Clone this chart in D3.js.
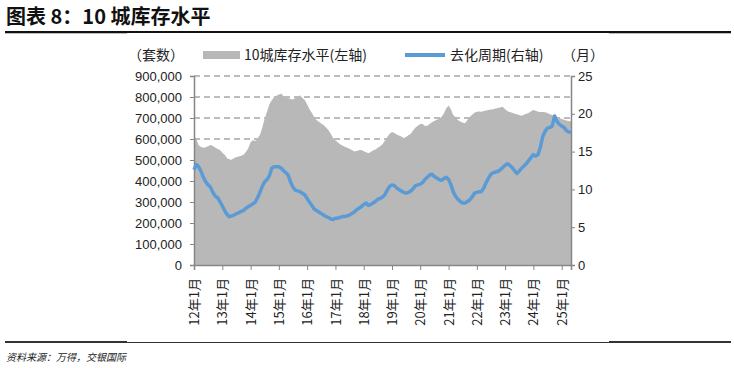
<!DOCTYPE html>
<html>
<head>
<meta charset="utf-8">
<script src="https://cdn.jsdelivr.net/npm/d3@7"></script>
<style>
  body { margin: 0; background: #fff; }
  svg { display: block; }
</style>
</head>
<body>
<svg id="chart" width="734" height="368"></svg>
<script>
// monthly series, 2012-01 .. 2025-05
const START_MONTH = "2012-01-01";

// 10-city inventory (sets), left axis
const inventory = [
  615, 600, 570, 562, 558, 561, 566, 572, 567, 560, 552, 548,
  535, 525, 510, 496, 502, 508, 514, 517, 520, 525, 538, 555,
  585, 594, 590, 603, 619, 655, 695, 730, 765, 785, 800, 806,
  812, 815, 805, 798, 795, 790, 788, 795, 800, 808, 795, 786,
  765, 742, 725, 705, 690, 682, 674, 667, 655, 643, 625, 605,
  593, 585, 575, 569, 563, 558, 553, 548, 541, 543, 547, 548,
  542, 537, 532, 538, 545, 550, 558, 565, 575, 592, 610, 625,
  633, 628, 622, 617, 612, 605, 610, 618, 625, 640, 655, 663,
  672, 672, 662, 663, 672, 680, 686, 692, 697, 705, 722, 745,
  760, 740, 714, 703, 690, 683, 678, 675, 690, 705, 715, 725,
  730, 731, 730, 733, 736, 738, 740, 742, 745, 748, 750, 754,
  742, 732, 728, 725, 722, 718, 714, 711, 715, 720, 724, 732,
  738, 734, 730, 729, 728, 727, 724, 718, 714, 710, 706, 700,
  695, 692, 688, 686, 684
].map(v => v * 1000);

// sell-through period (months), right axis
const period = [
  12.6, 13.3, 13.0, 12.4, 11.6, 11.0, 10.6, 10.3, 9.6, 9.1, 8.9, 8.4,
  7.8, 7.2, 6.7, 6.4, 6.5, 6.6, 6.8, 6.9, 7.1, 7.2, 7.5, 7.7,
  7.9, 8.1, 8.3, 8.9, 9.6, 10.4, 11.0, 11.3, 11.8, 12.8, 13.0, 13.0,
  13.0, 12.8, 12.5, 12.2, 11.9, 11.0, 10.3, 9.9, 9.8, 9.7, 9.5, 9.3,
  8.8, 8.3, 7.9, 7.4, 7.2, 7.0, 6.8, 6.6, 6.4, 6.3, 6.1, 6.0,
  6.2, 6.2, 6.3, 6.4, 6.4, 6.5, 6.6, 6.8, 7.0, 7.3, 7.5, 7.7,
  8.0, 8.2, 7.9, 8.0, 8.2, 8.4, 8.7, 8.8, 9.0, 9.3, 9.9, 10.4,
  10.6, 10.5, 10.2, 10.0, 9.8, 9.6, 9.5, 9.6, 9.8, 10.1, 10.5, 10.6,
  10.7, 10.9, 11.3, 11.6, 11.9, 12.0, 11.7, 11.5, 11.3, 11.2, 11.4, 11.6,
  11.3, 10.6, 9.7, 9.1, 8.7, 8.4, 8.2, 8.2, 8.4, 8.6, 9.0, 9.5,
  9.6, 9.7, 9.7, 10.2, 10.9, 11.5, 12.0, 12.2, 12.3, 12.4, 12.6, 12.9,
  13.2, 13.4, 13.2, 12.9, 12.5, 12.1, 12.4, 12.8, 13.1, 13.4, 13.8, 14.2,
  14.6, 14.4, 14.6, 15.6, 17.0, 17.7, 18.1, 18.2, 18.4, 19.7, 19.0, 18.6,
  18.4, 18.2, 17.8, 17.6, 17.5
];

const tickYears = [12, 13, 14, 15, 16, 17, 18, 19, 20, 21, 22, 23, 24, 25];
const leftTicks = [0, 100000, 200000, 300000, 400000, 500000, 600000, 700000, 800000, 900000];
const rightTicks = [0, 5, 10, 15, 20, 25];

const start = new Date(START_MONTH);
const data = inventory.map((v, i) => ({
  date: d3.timeMonth.offset(start, i),
  inv: v,
  per: period[i]
}));

const svg = d3.select('#chart');
const plot = {left: 194, right: 571, top: 76, bottom: 265};
const axisColor = '#868686';
const labelFont = '"Liberation Sans", Arial, sans-serif';
const cjkFont = '"Noto Sans CJK SC", "Liberation Sans", sans-serif';

const x = d3.scaleTime()
  .domain([start, data[data.length - 1].date])
  .range([plot.left, plot.right]);

const yL = d3.scaleLinear().domain([0, 900000]).range([plot.bottom, plot.top]);
const yR = d3.scaleLinear().domain([0, 25]).range([plot.bottom, plot.top]);

// title + rules
svg.append('text')
  .attr('x', 6).attr('y', 24)
  .attr('font-family', cjkFont)
  .attr('font-weight', 700)
  .attr('font-size', 20)
  .attr('fill', '#111')
  .text('图表 8：10 城库存水平');

svg.append('rect').attr('x', 5).attr('y', 31).attr('width', 726).attr('height', 2).attr('fill', '#111');
svg.append('rect').attr('x', 5).attr('y', 33).attr('width', 122).attr('height', 1).attr('fill', '#bbb');
svg.append('rect').attr('x', 609).attr('y', 33).attr('width', 122).attr('height', 1).attr('fill', '#bbb');

svg.append('rect').attr('x', 5).attr('y', 342).attr('width', 726).attr('height', 1).attr('fill', '#333');
svg.append('rect').attr('x', 5).attr('y', 341).attr('width', 122).attr('height', 2).attr('fill', '#333');
svg.append('rect').attr('x', 609).attr('y', 341).attr('width', 122).attr('height', 2).attr('fill', '#333');

svg.append('text')
  .attr('x', 6).attr('y', 361)
  .attr('font-family', cjkFont)
  .attr('font-style', 'italic')
  .attr('font-size', 10)
  .attr('fill', '#222')
  .text('资料来源：万得，交银国际');

// gridlines (behind area)
svg.append('g')
  .selectAll('line')
  .data(leftTicks.filter(d => d > 0))
  .enter().append('line')
  .attr('x1', plot.left).attr('x2', plot.right)
  .attr('y1', d => yL(d)).attr('y2', d => yL(d))
  .attr('stroke', '#a6a6a6')
  .attr('stroke-width', 1.5)
  .attr('stroke-dasharray', '6,4');

// inventory area
const area = d3.area()
  .x(d => x(d.date))
  .y0(plot.bottom)
  .y1(d => yL(d.inv));

svg.append('path')
  .datum(data)
  .attr('d', area)
  .attr('fill', '#b8b8b8');

// axes
const gL = svg.append('g')
  .attr('transform', `translate(${plot.left},0)`)
  .call(d3.axisLeft(yL).tickValues(leftTicks).tickSize(4).tickFormat(d3.format(',')));

const gR = svg.append('g')
  .attr('transform', `translate(${plot.right},0)`)
  .call(d3.axisRight(yR).tickValues(rightTicks).tickSize(4));

const gB = svg.append('g')
  .attr('transform', `translate(0,${plot.bottom})`)
  .call(d3.axisBottom(x)
    .tickValues(tickYears.map(yy => new Date(2000 + yy, 0, 1)))
    .tickSize(5)
    .tickFormat(d => `${d.getFullYear() - 2000}年1月`));

[gL, gR, gB].forEach(g => {
  g.select('.domain').attr('stroke', axisColor).attr('stroke-width', 1.5);
  g.selectAll('.tick line').attr('stroke', axisColor).attr('stroke-width', 1);
  g.selectAll('.tick text')
    .attr('fill', '#222')
    .style('font-family', labelFont)
    .style('font-size', '13px');
});

gL.selectAll('.tick text').attr('x', -12);
gR.selectAll('.tick text').attr('x', 7);

gB.selectAll('.tick text')
  .style('font-family', cjkFont)
  .attr('transform', 'rotate(-90)')
  .attr('x', -13)
  .attr('y', 0)
  .attr('dy', '0.35em')
  .style('text-anchor', 'end');

// period line
const line = d3.line()
  .x(d => x(d.date))
  .y(d => yR(d.per));

svg.append('path')
  .datum(data)
  .attr('d', line)
  .attr('fill', 'none')
  .attr('stroke', '#5b9bd5')
  .attr('stroke-width', 3.5)
  .attr('stroke-linejoin', 'round');

// legend
const legY = 55;
const leg = svg.append('g')
  .attr('font-family', cjkFont)
  .attr('font-size', 14)
  .attr('fill', '#222');

leg.append('text').attr('x', 128).attr('y', legY).attr('dy', '0.35em').text('（套数）');
leg.append('rect').attr('x', 203).attr('y', legY - 4).attr('width', 37).attr('height', 8).attr('fill', '#b8b8b8');
leg.append('text').attr('x', 244).attr('y', legY).attr('dy', '0.35em').text('10城库存水平(左轴)');
leg.append('line')
  .attr('x1', 405).attr('x2', 445).attr('y1', legY).attr('y2', legY)
  .attr('stroke', '#5b9bd5').attr('stroke-width', 4);
leg.append('text').attr('x', 450).attr('y', legY).attr('dy', '0.35em').text('去化周期(右轴)');
leg.append('text').attr('x', 562).attr('y', legY).attr('dy', '0.35em').text('（月）');
</script>
</body>
</html>
